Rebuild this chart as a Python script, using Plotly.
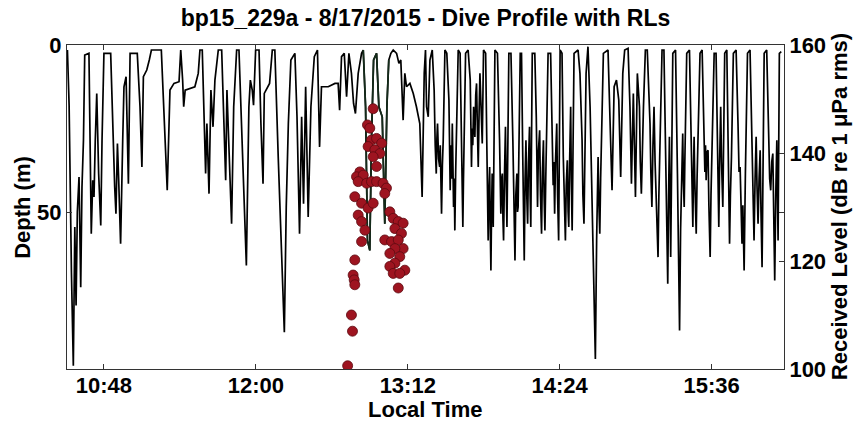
import pandas as pd
import plotly.graph_objects as go

# ---- Dive profile: time (minutes after midnight, local) and depth (m) ----
dive_time_min = [
    630.7, 631.5, 632.6, 633.5, 634.2, 634.8, 635.4, 636.2, 637.0, 637.6, 638.3, 638.9,
    640.9, 641.4, 642.0, 642.7, 643.3, 643.9, 644.6, 645.5, 646.5, 647.1, 648.0,
    651.2, 652.1, 653.1, 653.7, 654.4, 655.0, 655.9, 656.9, 657.5, 658.5, 659.1, 659.6, 660.4,
    663.8, 665.1, 666.0, 666.7, 668.3, 669.5, 670.5,
    675.2, 676.5, 678.0, 679.3, 681.2, 683.6, 684.4, 685.3, 685.8, 686.5, 689.0, 691.1, 692.7, 693.5,
    694.6, 695.6, 696.2, 696.8, 697.8, 698.7, 699.7, 700.6, 702.2,
    703.8, 705.0, 705.7, 706.3, 707.3, 708.5, 709.5, 710.9,
    712.0, 713.6, 715.5, 716.7, 717.4, 718.3, 718.9, 719.9,
    721.5, 722.4, 723.4, 724.0, 725.6, 726.5, 727.8,
    729.0, 730.6, 732.2, 732.8, 733.5, 734.4, 735.4, 736.6,
    738.5, 739.5, 740.7, 741.7, 742.6, 743.6, 744.8, 746.1, 747.7,
    749.2, 750.2, 751.1, 754.3, 757.5, 759.0, 759.7, 760.6,
    761.9, 763.0, 764.1, 765.3, 766.3, 767.2, 768.5, 770.1,
    770.9, 772.0, 772.9, 774.0, 774.8, 775.8,
    777.2, 778.3, 779.9, 781.1, 782.1, 783.0, 784.0,
    785.1, 786.7, 787.8, 788.7, 789.8, 790.6, 791.4, 793.0, 794.6, 796.1, 797.7, 798.8, 799.8, 800.4,
    800.9, 801.7, 802.5, 803.6,
    804.5, 805.0, 805.5, 805.8, 806.1, 806.6, 807.1, 807.4, 807.7, 808.0, 808.4, 808.8, 809.6,
    810.5, 811.5, 811.8, 812.1, 812.4, 812.8, 813.1, 813.4, 813.7, 814.0, 814.3, 814.7, 815.1, 815.9,
    816.8, 817.2, 817.5, 817.8, 818.1, 818.4, 818.7, 819.4,
    820.6, 821.6, 822.2, 822.5, 822.8, 823.2, 823.5, 823.8, 824.2, 824.6, 825.0, 825.4, 825.8,
    826.2, 826.8, 827.3, 827.9,
    828.9, 829.5, 829.8, 830.1, 830.4, 830.8, 831.1, 831.4, 831.7, 832.0, 832.3, 832.5, 833.3,
    834.5, 835.5, 835.8, 836.1, 836.5, 836.8, 837.1, 837.4, 837.8, 838.3, 838.6, 839.0, 839.9,
    840.9, 841.8, 842.3, 842.8, 843.2, 843.7, 844.0, 844.3, 845.3,
    845.9, 846.5, 846.9, 847.2, 847.6, 848.0, 848.4, 848.8, 849.2, 849.7, 850.0, 850.3, 851.0,
    852.2, 852.9, 853.2, 853.5, 853.9, 854.5, 854.9, 855.4, 855.8, 856.3, 856.6, 857.0, 857.4,
    857.7, 858.5,
    859.7, 860.4, 860.9, 861.2, 861.6, 862.0, 862.6, 863.0, 863.5, 864.2,
    865.1, 865.7, 866.2, 866.7, 867.1, 867.6, 868.0, 868.3, 868.7, 869.2, 869.5, 869.9, 870.8,
    872.7, 873.6, 874.1, 874.6, 875.0, 875.5, 876.5, 877.4,
    878.4, 879.3, 880.3, 880.9, 881.5, 882.2, 882.6, 883.0, 883.4, 883.8, 884.7,
    886.9, 887.9, 888.8, 889.8, 890.9, 892.0, 892.9, 893.9, 894.8,
    896.4, 897.3, 898.0, 898.9, 899.4, 899.9, 900.8, 901.8, 902.2, 902.7, 903.7, 904.6,
    905.5, 906.8, 907.2, 907.7, 908.2, 908.7, 909.2, 909.6, 910.1, 910.6, 911.0, 911.5, 912.5,
    913.4, 914.0, 914.4, 914.8, 915.2, 915.6, 916.0, 916.3, 916.6, 917.6,
    918.9, 919.8, 920.3, 920.8, 921.3, 921.7, 922.3, 922.6, 923.0, 923.3, 923.6, 924.2,
    925.5, 926.4, 926.8, 927.1, 927.4, 927.7, 928.0, 928.3, 928.7, 929.1, 929.6, 930.5,
    931.5, 932.4, 932.8, 933.1, 933.4, 933.8, 934.3, 934.7, 935.3, 935.7, 936.2, 937.2,
    938.1, 938.8, 939.1, 939.4, 939.8, 940.3, 940.7, 941.0, 941.3, 942.2,
    943.2, 943.8, 944.2, 944.5, 944.9, 945.4, 946.3,
    947.6, 948.5, 949.0, 949.5, 950.0, 950.4, 950.8, 951.4, 952.0, 953.0,
    954.2, 955.2, 955.6, 956.1, 956.6, 957.1, 957.5, 958.0, 958.5, 959.0, 959.4, 959.9, 960.9,
    962.1, 963.1, 963.5, 964.0, 964.5, 965.0, 965.4, 965.9, 966.4, 966.9, 967.2, 967.5, 968.1,
    969.0,
]
dive_depth_m = [
    1.5, 18, 68, 96, 54.5, 78, 50, 39.5, 72.5, 42.5, 28.5, 3,
    2.5, 28.5, 56.5, 40.5, 45.5, 28.5, 14.5, 38.5, 54, 28.5, 2.5,
    2.5, 23.5, 42.5, 50.5, 29.5, 40.5, 59.5, 28.5, 12.5, 9.5, 28.5, 41.5, 2.5,
    2.5, 18.5, 36.5, 9.5, 7.5, 4.5, 1.5,
    1.5, 23.5, 43.5, 13.5, 11.5, 11, 1.5, 10.5, 18.5, 13.5, 13, 12.5, 8.5, 1.5,
    1.5, 23.5, 38.5, 23.5, 44.5, 13.5, 24.5, 10.5, 1.5,
    1.5, 28.5, 40.5, 13.5, 33.5, 53.5, 18.5, 1.5,
    1.5, 33.5, 66, 18.5, 10.5, 13.5, 18, 1.5,
    1.5, 23.5, 41.5, 14.5, 12.5, 11.5, 1.5,
    1.5, 33.5, 60.5, 68.5, 86, 48.5, 23.5, 4.5,
    2.5, 21.5, 56.5, 21.5, 47.5, 12.5, 51.5, 18.5, 3.5,
    1.5, 30.5, 12.5, 12.5, 11.5, 11.5, 19.5, 3.5,
    2.5, 15.5, 2.5, 8.5, 17.5, 20.5, 8.5, 2.5,
    1.5, 18.5, 58.5, 61.5, 28.5, 4.5,
    2.5, 18.5, 21.5, 53.5, 18.5, 4.5, 2.5,
    1.5, 2.5, 5.5, 4.5, 22.5, 8.5, 12.5, 11.5, 14.5, 18.5, 23.5, 45.5, 8.5, 1.5,
    18.5, 21.5, 4.5, 1.5,
    13.5, 30, 38.5, 28, 23.5, 34, 36.5, 30, 45, 50.5, 36, 28.5, 1.5,
    2.5, 16.5, 35, 43.5, 30, 40, 23.5, 38, 48.5, 40, 55.5, 38, 28.5, 1.5,
    2.5, 20, 30.5, 45, 54.5, 40, 28.5, 2.5,
    1.5, 10.5, 36.5, 25, 30, 18.5, 24, 27.5, 15, 11.5, 25, 36.5, 20,
    8.5, 20, 29.5, 1.5,
    2.5, 31.5, 45, 58.5, 45, 36.5, 55, 67.5, 50, 38.5, 48, 54.5, 1.5,
    2.5, 28.5, 42, 50.5, 40, 38.5, 52, 58.5, 40, 24.5, 40, 54.5, 2.5,
    2.5, 28.5, 50, 64.5, 45, 38.5, 50, 48.5, 2.5,
    2.5, 33.5, 55, 64.5, 40, 28.5, 45, 53.5, 35, 24.5, 45, 54.5, 2.5,
    2.5, 21.5, 38, 48.5, 32, 25.5, 45, 56.5, 38, 28.5, 45, 55.5, 40,
    30, 2.5,
    2.5, 30.5, 42, 35, 50.5, 35, 23.5, 45, 58.5, 1.5,
    2.5, 33.5, 50, 58.5, 42, 34.5, 50, 54.5, 35, 18.5, 40, 55.5, 2.5,
    1.5, 8.5, 18, 28.5, 45, 53.5, 8.5, 0.5,
    18.5, 48.5, 78.5, 94, 58.5, 33.5, 48, 56.5, 40, 28.5, 2.5,
    1.5, 23.5, 43.5, 12.5, 10.5, 16.5, 39.5, 8.5, 1.5,
    1, 18.5, 41.5, 14.5, 30, 45.5, 8.5, 18.5, 35, 44.5, 18.5, 1.5,
    1.5, 23.5, 38, 48.5, 30, 18.5, 35, 43.5, 55, 63.5, 45, 28.5, 1.5,
    1.5, 25, 38.5, 55, 71.5, 45, 27.5, 45, 63.5, 2.5,
    1.5, 38.5, 65, 85.5, 55, 38.5, 26.5, 40, 48.5, 35, 25.5, 2.5,
    1.5, 28.5, 45, 54.5, 38, 27.5, 40, 50, 56.5, 40, 28.5, 2.5,
    1.5, 28.5, 38, 30, 40.5, 32, 31.5, 48, 63.5, 45, 33.5, 2.5,
    2.5, 28.5, 45, 54.5, 35, 18.5, 35, 45, 48.5, 2.5,
    1.5, 28.5, 48, 59.5, 45, 33.5, 2.5,
    1.5, 23.5, 38, 36.5, 52, 59.5, 48, 67.5, 38.5, 2.5,
    1.5, 28.5, 45, 58.5, 40, 27.5, 42, 53.5, 40, 31.5, 50, 66.5, 2.5,
    1.5, 28.5, 40, 43.5, 35, 32.5, 50, 70.5, 45, 28.5, 45, 58.5, 2.5,
    2.0,
]

# ---- Received levels (dB re 1 uPa rms) ----
rl_time_min = [
    775.6, 772.9, 774.0, 774.8, 777.2, 779.6, 773.2, 776.4, 778.8, 775.6, 777.2,
    769.3, 767.7, 770.9, 768.5, 772.5, 774.8, 777.2, 780.3, 781.9, 781.1,
    766.9, 770.1, 773.2, 775.6, 768.5, 770.1, 771.7, 770.1, 766.9,
    766.1, 766.6, 766.9, 765.3, 765.8, 763.5,
    783.5, 785.1, 787.5, 789.8, 785.9, 789.0, 781.1, 784.3, 787.5, 789.8,
    785.9, 783.5, 788.2, 785.9, 790.6, 783.5, 785.1, 788.2, 787.5,
]
rl_db = [
    148.2, 145.2, 144.6, 142.4, 142.7, 141.8, 141.2, 140.6, 139.9, 139.3, 137.5,
    136.5, 135.6, 135.9, 134.7, 134.4, 134.7, 134.7, 134.4, 133.5, 132.5,
    131.9, 130.7, 129.8, 130.7, 128.5, 127.3, 125.7, 123.6, 120.2,
    117.4, 116.5, 115.6, 110.0, 107.0, 100.6,
    129.1, 127.9, 127.3, 127.0, 126.0, 125.1, 123.9, 123.6, 123.9, 122.3,
    122.3, 121.4, 120.8, 119.6, 118.3, 119.0, 117.7, 117.7, 115.0,
]

# time window (minutes) of the dive segment drawn in dark green during the RL period
rl_window_min = [770.9, 783.0]

x_tick_labels = ["10:48", "12:00", "13:12", "14:24", "15:36"]
depth_ticks = [0, 50]
rl_ticks = [100, 120, 140, 160]

day = pd.Timestamp("2015-08-17")
to_dt = lambda mins: day + pd.to_timedelta(pd.Series(mins, dtype=float), unit="m")
x_dive = to_dt(dive_time_min)
x_rl = to_dt(rl_time_min)
tick_dt = [day + pd.Timedelta(lbl + ":00") for lbl in x_tick_labels]

seg = [(t, d) for t, d in zip(dive_time_min, dive_depth_m)
       if rl_window_min[0] <= t <= rl_window_min[1]]

FONT = "Arial, Liberation Sans, Helvetica, sans-serif"
fsz = 22
bold = dict(family=FONT, size=fsz, color="black", weight="bold")

fig = go.Figure()
fig.add_trace(go.Scatter(
    x=x_dive, y=dive_depth_m, mode="lines",
    line=dict(color="black", width=1.7), yaxis="y", showlegend=False,
))
fig.add_trace(go.Scatter(
    x=to_dt([s[0] for s in seg]), y=[s[1] for s in seg], mode="lines",
    line=dict(color="#142b1a", width=1.7), yaxis="y", showlegend=False,
))
fig.add_trace(go.Scatter(
    x=x_rl, y=rl_db, mode="markers", yaxis="y2", showlegend=False,
    marker=dict(size=10, color="#9e1420", line=dict(color="#5c0a10", width=0.8)),
))

axis_common = dict(
    ticks="inside", ticklen=5, tickcolor="#333", tickwidth=1,
    showline=True, linecolor="#333", linewidth=1,
    showgrid=False, zeroline=False, automargin=False, tickfont=bold,
)

fig.update_layout(
    width=856, height=421,
    margin=dict(l=67, r=72, t=45, b=52, autoexpand=False),
    paper_bgcolor="white", plot_bgcolor="white",
    font=dict(family=FONT, size=fsz, color="black"),
    title=dict(text="bp15_229a - 8/17/2015 - Dive Profile with RLs",
               font=dict(family=FONT, size=23, color="black", weight="bold"),
               x=0.5, xref="paper", xanchor="center",
               y=0.958, yref="container", yanchor="middle", automargin=False),
    xaxis=dict(
        type="date",
        range=[day + pd.Timedelta(minutes=630.5), day + pd.Timedelta(minutes=970.3)],
        tickvals=tick_dt, ticktext=x_tick_labels, mirror="ticks",
        ticklabelstandoff=-3,
        **axis_common,
    ),
    yaxis=dict(range=[97, 0], tickvals=depth_ticks, mirror="ticks", **axis_common),
    yaxis2=dict(range=[100, 160], tickvals=rl_ticks, overlaying="y", side="right",
                **axis_common),
    annotations=[
        dict(text="Local Time", xref="paper", yref="paper", x=0.5, y=-0.125,
             xanchor="center", yanchor="middle", showarrow=False, font=bold),
        dict(text="Depth (m)", xref="paper", yref="paper", x=-0.063, y=0.5,
             xanchor="center", yanchor="middle", textangle=-90, showarrow=False, font=bold),
        dict(text="Received Level (dB re 1 \u03bcPa rms)", xref="paper", yref="paper",
             x=1.077, y=0.5, xanchor="center", yanchor="middle", textangle=-90,
             showarrow=False, font=bold),
    ],
)

fig.write_html(
    "out.html",
    config={"displayModeBar": False},
    post_script="document.body.style.margin='0';document.body.style.padding='0';"
                "document.documentElement.style.overflow='hidden';",
)
